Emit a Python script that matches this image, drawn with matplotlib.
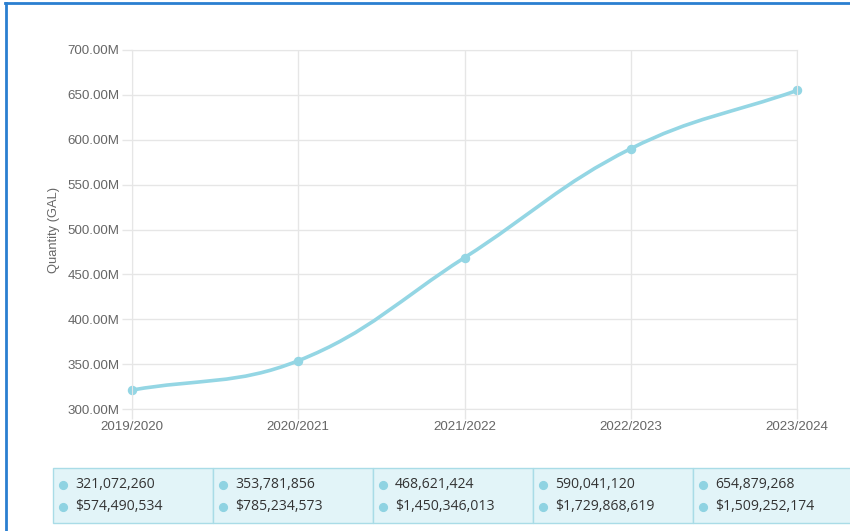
import matplotlib.pyplot as plt
import numpy as np
from matplotlib.path import Path
from matplotlib.patches import PathPatch, Rectangle
from matplotlib.lines import Line2D

seasons = ["2019/2020", "2020/2021", "2021/2022", "2022/2023", "2023/2024"]
quantity = [321072260, 353781856, 468621424, 590041120, 654879268]
value = [574490534, 785234573, 1450346013, 1729868619, 1509252174]

line_color = "#94d6e4"
grid_color = "#e6e6e6"
label_color = "#666666"

W, H = 850, 531
fig = plt.figure(figsize=(W / 100, H / 100), dpi=100)


def fx(px):
    return px / W


def fy(py):
    return 1 - py / H


ax = fig.add_axes([fx(132), fy(409), fx(797) - fx(132), fy(50) - fy(409)])
x = np.arange(len(seasons))
ax.set_xlim(0, len(seasons) - 1)
ax.set_ylim(300e6, 700e6)
ax.set_yticks(np.arange(300e6, 700e6 + 1, 50e6))
ax.set_yticklabels(["%.2fM" % (v / 1e6) for v in ax.get_yticks()],
                   family="Liberation Sans")
ax.set_xticks(x)
ax.set_xticklabels(seasons, family="Liberation Sans")
ax.grid(True, color=grid_color, linewidth=1)
ax.set_axisbelow(True)
for s in ax.spines.values():
    s.set_color(grid_color)
ax.tick_params(colors=grid_color, labelcolor=label_color, labelsize=9.6,
               length=7, width=1, pad=2)
ax.set_ylabel("Quantity (GAL)", color=label_color, fontsize=9.3,
              family="Liberation Sans", labelpad=5)

# smooth line like chart.js (tension 0.4), control points in pixel space
pts = ax.transData.transform(np.column_stack([x, quantity]))
n = len(pts)
t = 0.4
cin, cout = [], []
for i in range(n):
    prev = pts[max(i - 1, 0)]
    cur = pts[i]
    nxt = pts[min(i + 1, n - 1)]
    d01 = np.hypot(*(cur - prev))
    d12 = np.hypot(*(nxt - cur))
    tot = d01 + d12
    s01 = d01 / tot if tot else 0
    s12 = d12 / tot if tot else 0
    cin.append(cur - t * s01 * (nxt - prev))
    cout.append(cur + t * s12 * (nxt - prev))
verts = [pts[0]]
codes = [Path.MOVETO]
for i in range(n - 1):
    verts += [cout[i], cin[i + 1], pts[i + 1]]
    codes += [Path.CURVE4] * 3
verts = ax.transData.inverted().transform(np.array(verts))
ax.add_patch(PathPatch(Path(verts, codes), facecolor="none",
                       edgecolor=line_color, linewidth=2.6, clip_on=False))
ax.plot(x, quantity, "o", color=line_color, markersize=5.8, clip_on=False)

# blue frame
fig.add_artist(Line2D([fx(5), 1], [fy(3), fy(3)], color="#2a7fd0", linewidth=2))
fig.add_artist(Line2D([fx(6), fx(6)], [fy(3), 0], color="#2a7fd0", linewidth=2))

# summary table
col_w = 160
top, bot = 468, 523
for i in range(len(seasons)):
    left = 53 + i * col_w
    fig.add_artist(Rectangle((fx(left), fy(bot)), fx(col_w), fy(top) - fy(bot),
                             facecolor="#e2f4f8", edgecolor="#a9dce7",
                             linewidth=1, transform=fig.transFigure))
    for j, txt in enumerate(["{:,}".format(quantity[i]),
                             "${:,}".format(value[i])]):
        yy = fy(485 + j * 22)
        fig.add_artist(Line2D([fx(left + 10)], [yy], marker="o",
                              markersize=5.6, color="#8fd3e2",
                              linestyle="none"))
        fig.text(fx(left + 22), yy, txt, fontsize=10.1, color="#333333",
                 family="Open Sans", va="center", ha="left")

fig.savefig("out.png", dpi=100)
